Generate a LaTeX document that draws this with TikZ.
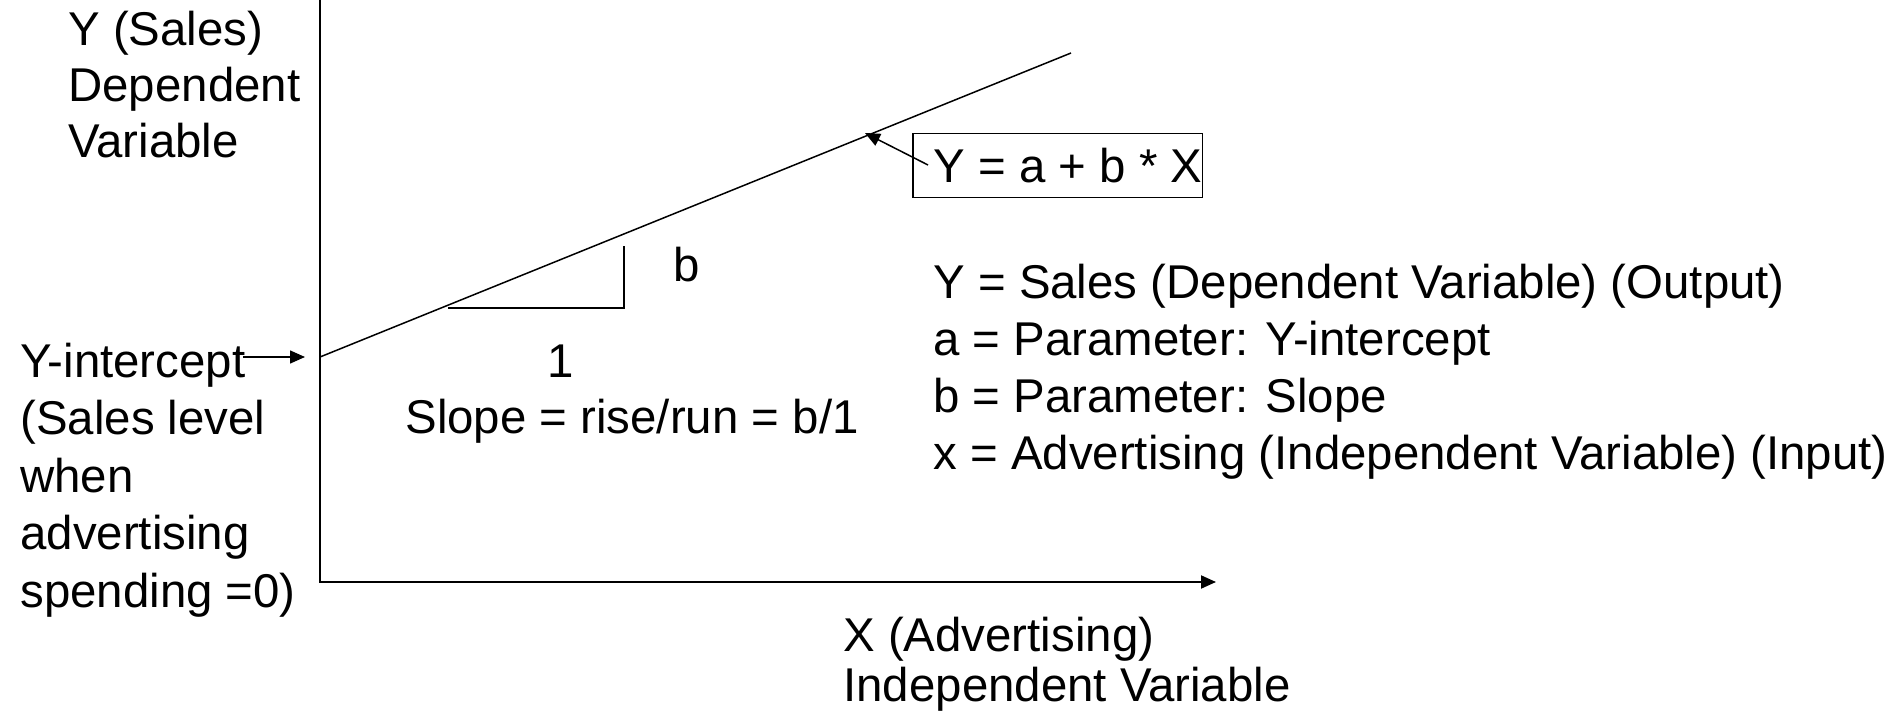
\documentclass[tikz,border=0pt]{standalone}
\usepackage{fontspec}
\setmainfont{Liberation Sans}
\usetikzlibrary{arrows.meta,positioning}
\tikzset{
  txt/.style={inner sep=0pt,align=left,anchor=base west,font=\fontsize{23.7}{28.5}\selectfont},
  axis/.style={line width=1pt,draw=black},
  graph/.style={line width=0.75pt,draw=black},
  ar/.style={-{Triangle[length=7.5pt,width=6.5pt]}},
  eqbox/.style={draw,line width=0.75pt,inner xsep=0pt,inner ysep=0pt,minimum height=32pt,
                anchor=north west,font=\fontsize{23.7}{28.5}\selectfont},
}
\begin{document}
\begin{tikzpicture}[x=0.5pt,y=-0.5pt]
\useasboundingbox (0,0) rectangle (1899,716);
% axes and regression line
\coordinate (ytop) at (320,0);
\coordinate (ox) at (320,582);
\coordinate (xend) at (1216,582);
\coordinate (yint) at (320,357);
\coordinate (lend) at (1071,53);
\draw[axis,ar] (ytop) -- (ox) -- (xend);
\draw[graph] (yint) -- (lend);
% rise/run triangle
\coordinate (runa) at (448,308);
\coordinate (runb) at (624,308);
\coordinate (risetop) at (624,246);
\draw[graph] (runa) -- (runb) -- (risetop);
\node[txt] (rise) at (673,282) {b};
\node[txt] (run) at (547,378) {1};
\node[txt] (slope) at (405,433) {Slope = rise/run = b/1};
% axis labels (base = last line)
\node[txt,font=\fontsize{23.7}{28}\selectfont] (ylab) at (68,158) {Y (Sales)\\Dependent\\Variable};
\node[txt,font=\fontsize{23.7}{25}\selectfont] (xlab) at (843,701) {X (Advertising)\\Independent Variable};
\node[txt,font=\fontsize{23.7}{28.75}\selectfont] (icpt) at (20,607) {Y-intercept\\(Sales level\\when\\advertising\\spending =0)};
\coordinate (icptar) at (243,357);
\coordinate (icpttip) at (305,357);
\draw[graph,ar] (icptar) -- (icpttip);
% equation
\node[eqbox] (eq) at (912,133) {\hspace*{10.5pt}Y = a + b * X};
\coordinate (eqtail) at (928,165);
\coordinate (eqtip) at (865,133);
\draw[graph,ar] (eqtail) -- (eqtip);
\node[txt] (legend) at (933,469) {Y = Sales (Dependent Variable) (Output)\\a = Parameter: Y-intercept\\b = Parameter: Slope\\x = Advertising (Independent Variable) (Input)};
\end{tikzpicture}
\end{document}
